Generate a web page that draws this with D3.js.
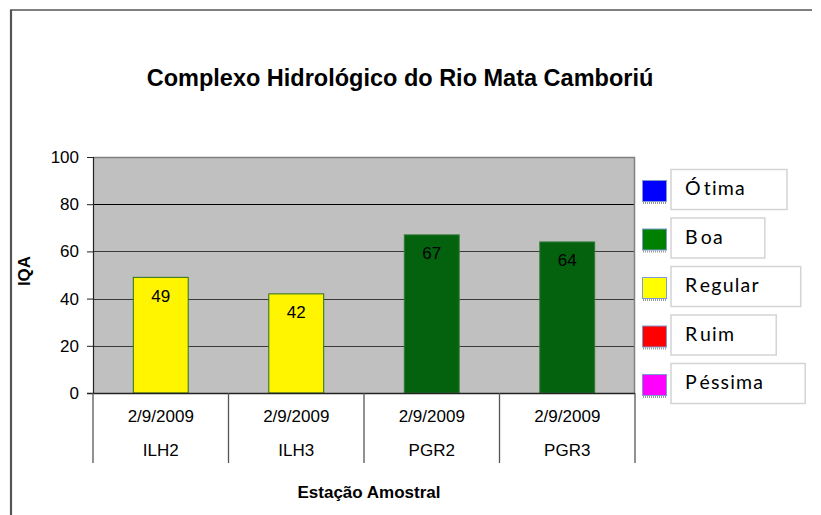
<!DOCTYPE html>
<html>
<head>
	<meta charset="utf-8">
	<title>IQA</title>
	<style>
		body { margin: 0; background: #fff; }
		text { font-family: "Liberation Sans", Arial, sans-serif; }
		text.legendText { font-family: Lato, "Open Sans", sans-serif; }
	</style>
</head>
<body>
<div id="chart"></div>

<script src="https://cdnjs.cloudflare.com/ajax/libs/d3/7.8.5/d3.min.js"></script>
<script>

	var stations = ['ILH2', 'ILH3', 'PGR2', 'PGR3'];
	var dates = ['2/9/2009', '2/9/2009', '2/9/2009', '2/9/2009'];
	var iqa = [49, 42, 67, 64];
	var barColors = ['#FFF500', '#FFF500', '#04620F', '#04620F'];
	var yTicks = [0, 20, 40, 60, 80, 100];

	var classes = ['Ótima', 'Boa', 'Regular', 'Ruim', 'Péssima'];
	var classColors = ['#0000FF', '#008000', '#FFFF00', '#FF0000', '#FF00FF'];

	var width = 821;
	var height = 515;

	var svg = d3.select('#chart')
		.append('svg')
		.attr('width', width)
		.attr('height', height);

	// outer frame (only top and left visible)
	svg.append('line')
		.attr('x1', 10).attr('y1', 10).attr('x2', 812).attr('y2', 10)
		.attr('stroke', '#000').attr('stroke-width', 1.2);
	svg.append('line')
		.attr('x1', 11).attr('y1', 10).attr('x2', 11).attr('y2', height)
		.attr('stroke', '#555').attr('stroke-width', 2.2);

	var plot = { left: 93, right: 635, top: 157, bottom: 393 };

	var x = d3.scaleBand()
		.domain(stations)
		.range([plot.left, plot.right])
		.padding(0);

	var y = d3.scaleLinear()
		.domain([0, 100])
		.range([plot.bottom, plot.top]);

	// plot background
	svg.append('rect')
		.attr('x', plot.left)
		.attr('y', plot.top)
		.attr('width', plot.right - plot.left)
		.attr('height', plot.bottom - plot.top)
		.attr('fill', '#C0C0C0');

	// gridlines
	svg.selectAll('.grid')
		.data(yTicks.filter(function(d){ return d > 0 && d < 100; }))
		.enter()
		.append('line')
		.attr('class', 'grid')
		.attr('x1', plot.left)
		.attr('x2', plot.right)
		.attr('y1', function(d){ return Math.round(y(d)) + 0.5; })
		.attr('y2', function(d){ return Math.round(y(d)) + 0.5; })
		.attr('stroke', function(d){ return d == 80 ? '#000' : '#3a3a3a'; })
		.attr('stroke-width', 1);

	// top and right border of plot area
	svg.append('path')
		.attr('d', 'M' + plot.left + ',' + (plot.top + 0.5) + 'H' + (plot.right - 0.5) + 'V' + plot.bottom)
		.attr('fill', 'none')
		.attr('stroke', '#808080')
		.attr('stroke-width', 1.5);

	// bars
	var barW = x.bandwidth() * 0.405;

	svg.selectAll('.bar')
		.data(iqa)
		.enter()
		.append('rect')
		.attr('class', 'bar')
		.attr('x', function(d, i){ return x(stations[i]) + (x.bandwidth() - barW) / 2; })
		.attr('y', function(d){ return y(d); })
		.attr('width', barW)
		.attr('height', function(d){ return y(0) - y(d); })
		.attr('fill', function(d, i){ return barColors[i]; })
		.attr('stroke', function(d, i){ return i < 2 ? '#2a6e1e' : '#2f7a30'; })
		.attr('stroke-width', 1);

	svg.selectAll('.barLabel')
		.data(iqa)
		.enter()
		.append('text')
		.attr('class', 'barLabel')
		.attr('x', function(d, i){ return x(stations[i]) + x.bandwidth() / 2; })
		.attr('y', function(d){ return y(d) + 20; })
		.attr('text-anchor', 'middle')
		.attr('dominant-baseline', 'middle')
		.attr('font-size', 17)
		.attr('fill', '#000')
		.text(function(d){ return d; });

	// y axis
	var yAxis = svg.append('g')
		.attr('transform', 'translate(' + plot.left + ',0)')
		.call(d3.axisLeft(y).tickValues(yTicks).tickSize(6).tickPadding(8));

	yAxis.select('.domain').attr('stroke', '#222').attr('stroke-width', 1.2);
	yAxis.selectAll('.tick line').attr('stroke', '#222');
	yAxis.selectAll('.tick text')
		.attr('font-size', 17)
		.attr('fill', '#000');

	// x axis line and category separators
	svg.append('line')
		.attr('x1', plot.left - 6)
		.attr('x2', plot.right)
		.attr('y1', plot.bottom + 0.5)
		.attr('y2', plot.bottom + 0.5)
		.attr('stroke', '#222')
		.attr('stroke-width', 1.5);

	var seps = stations.map(function(s){ return x(s); }).concat([plot.right]);

	svg.selectAll('.sep')
		.data(seps)
		.enter()
		.append('line')
		.attr('class', 'sep')
		.attr('x1', function(d){ return d; })
		.attr('x2', function(d){ return d; })
		.attr('y1', plot.bottom)
		.attr('y2', 463)
		.attr('stroke', '#555')
		.attr('stroke-width', 1.3);

	svg.selectAll('.dateLabel')
		.data(dates)
		.enter()
		.append('text')
		.attr('class', 'dateLabel')
		.attr('x', function(d, i){ return x(stations[i]) + x.bandwidth() / 2; })
		.attr('y', 418)
		.attr('text-anchor', 'middle')
		.attr('dominant-baseline', 'middle')
		.attr('font-size', 17)
		.text(function(d){ return d; });

	svg.selectAll('.stationLabel')
		.data(stations)
		.enter()
		.append('text')
		.attr('class', 'stationLabel')
		.attr('x', function(d){ return x(d) + x.bandwidth() / 2; })
		.attr('y', 452)
		.attr('text-anchor', 'middle')
		.attr('dominant-baseline', 'middle')
		.attr('font-size', 17)
		.text(function(d){ return d; });

	// titles
	svg.append('text')
		.attr('x', 400)
		.attr('y', 80)
		.attr('text-anchor', 'middle')
		.attr('dominant-baseline', 'middle')
		.attr('font-size', 23.5)
		.attr('font-weight', 'bold')
		.text('Complexo Hidrológico do Rio Mata Camboriú');

	svg.append('text')
		.attr('transform', 'translate(26,271) rotate(-90)')
		.attr('text-anchor', 'middle')
		.attr('dominant-baseline', 'middle')
		.attr('font-size', 17)
		.attr('font-weight', 'bold')
		.text('IQA');

	svg.append('text')
		.attr('x', 369)
		.attr('y', 494)
		.attr('text-anchor', 'middle')
		.attr('dominant-baseline', 'middle')
		.attr('font-size', 17)
		.attr('font-weight', 'bold')
		.text('Estação Amostral');

	// legend: loose swatches and text boxes
	var ly = d3.scalePoint()
		.domain(classes)
		.range([191, 385]);

	var legend = svg.selectAll('.legend')
		.data(classes)
		.enter()
		.append('g')
		.attr('class', 'legend')
		.attr('transform', function(d){ return 'translate(0,' + ly(d) + ')'; });

	legend.append('line')
		.attr('x1', 643).attr('x2', 666)
		.attr('y1', 12).attr('y2', 12)
		.attr('stroke', '#9a9a9a')
		.attr('stroke-width', 2)
		.attr('stroke-dasharray', '1,1');

	legend.append('rect')
		.attr('x', 642.5)
		.attr('y', -10.5)
		.attr('width', 24)
		.attr('height', 21)
		.attr('fill', function(d, i){ return classColors[i]; })
		.attr('stroke', '#7d9bd0')
		.attr('stroke-width', 1);

	var boxes = legend.append('rect')
		.attr('x', 671)
		.attr('y', -21.5)
		.attr('height', 40)
		.attr('fill', '#fff')
		.attr('stroke', '#d4d4d4')
		.attr('stroke-width', 1.5);

	var labels = legend.append('text')
		.attr('class', 'legendText')
		.attr('x', 685)
		.attr('y', -1)
		.attr('dominant-baseline', 'middle')
		.attr('font-size', 19.5)
		.attr('letter-spacing', 1.2)
		.attr('fill', '#000');

	labels.append('tspan').text(function(d){ return d.charAt(0); });
	labels.append('tspan').attr('dx', 2).text(function(d){ return d.slice(1); });

	labels.each(function(d, i){
		var w = this.getComputedTextLength();
		d3.select(boxes.nodes()[i]).attr('width', w + 57);
	});

</script>
</body>
</html>
